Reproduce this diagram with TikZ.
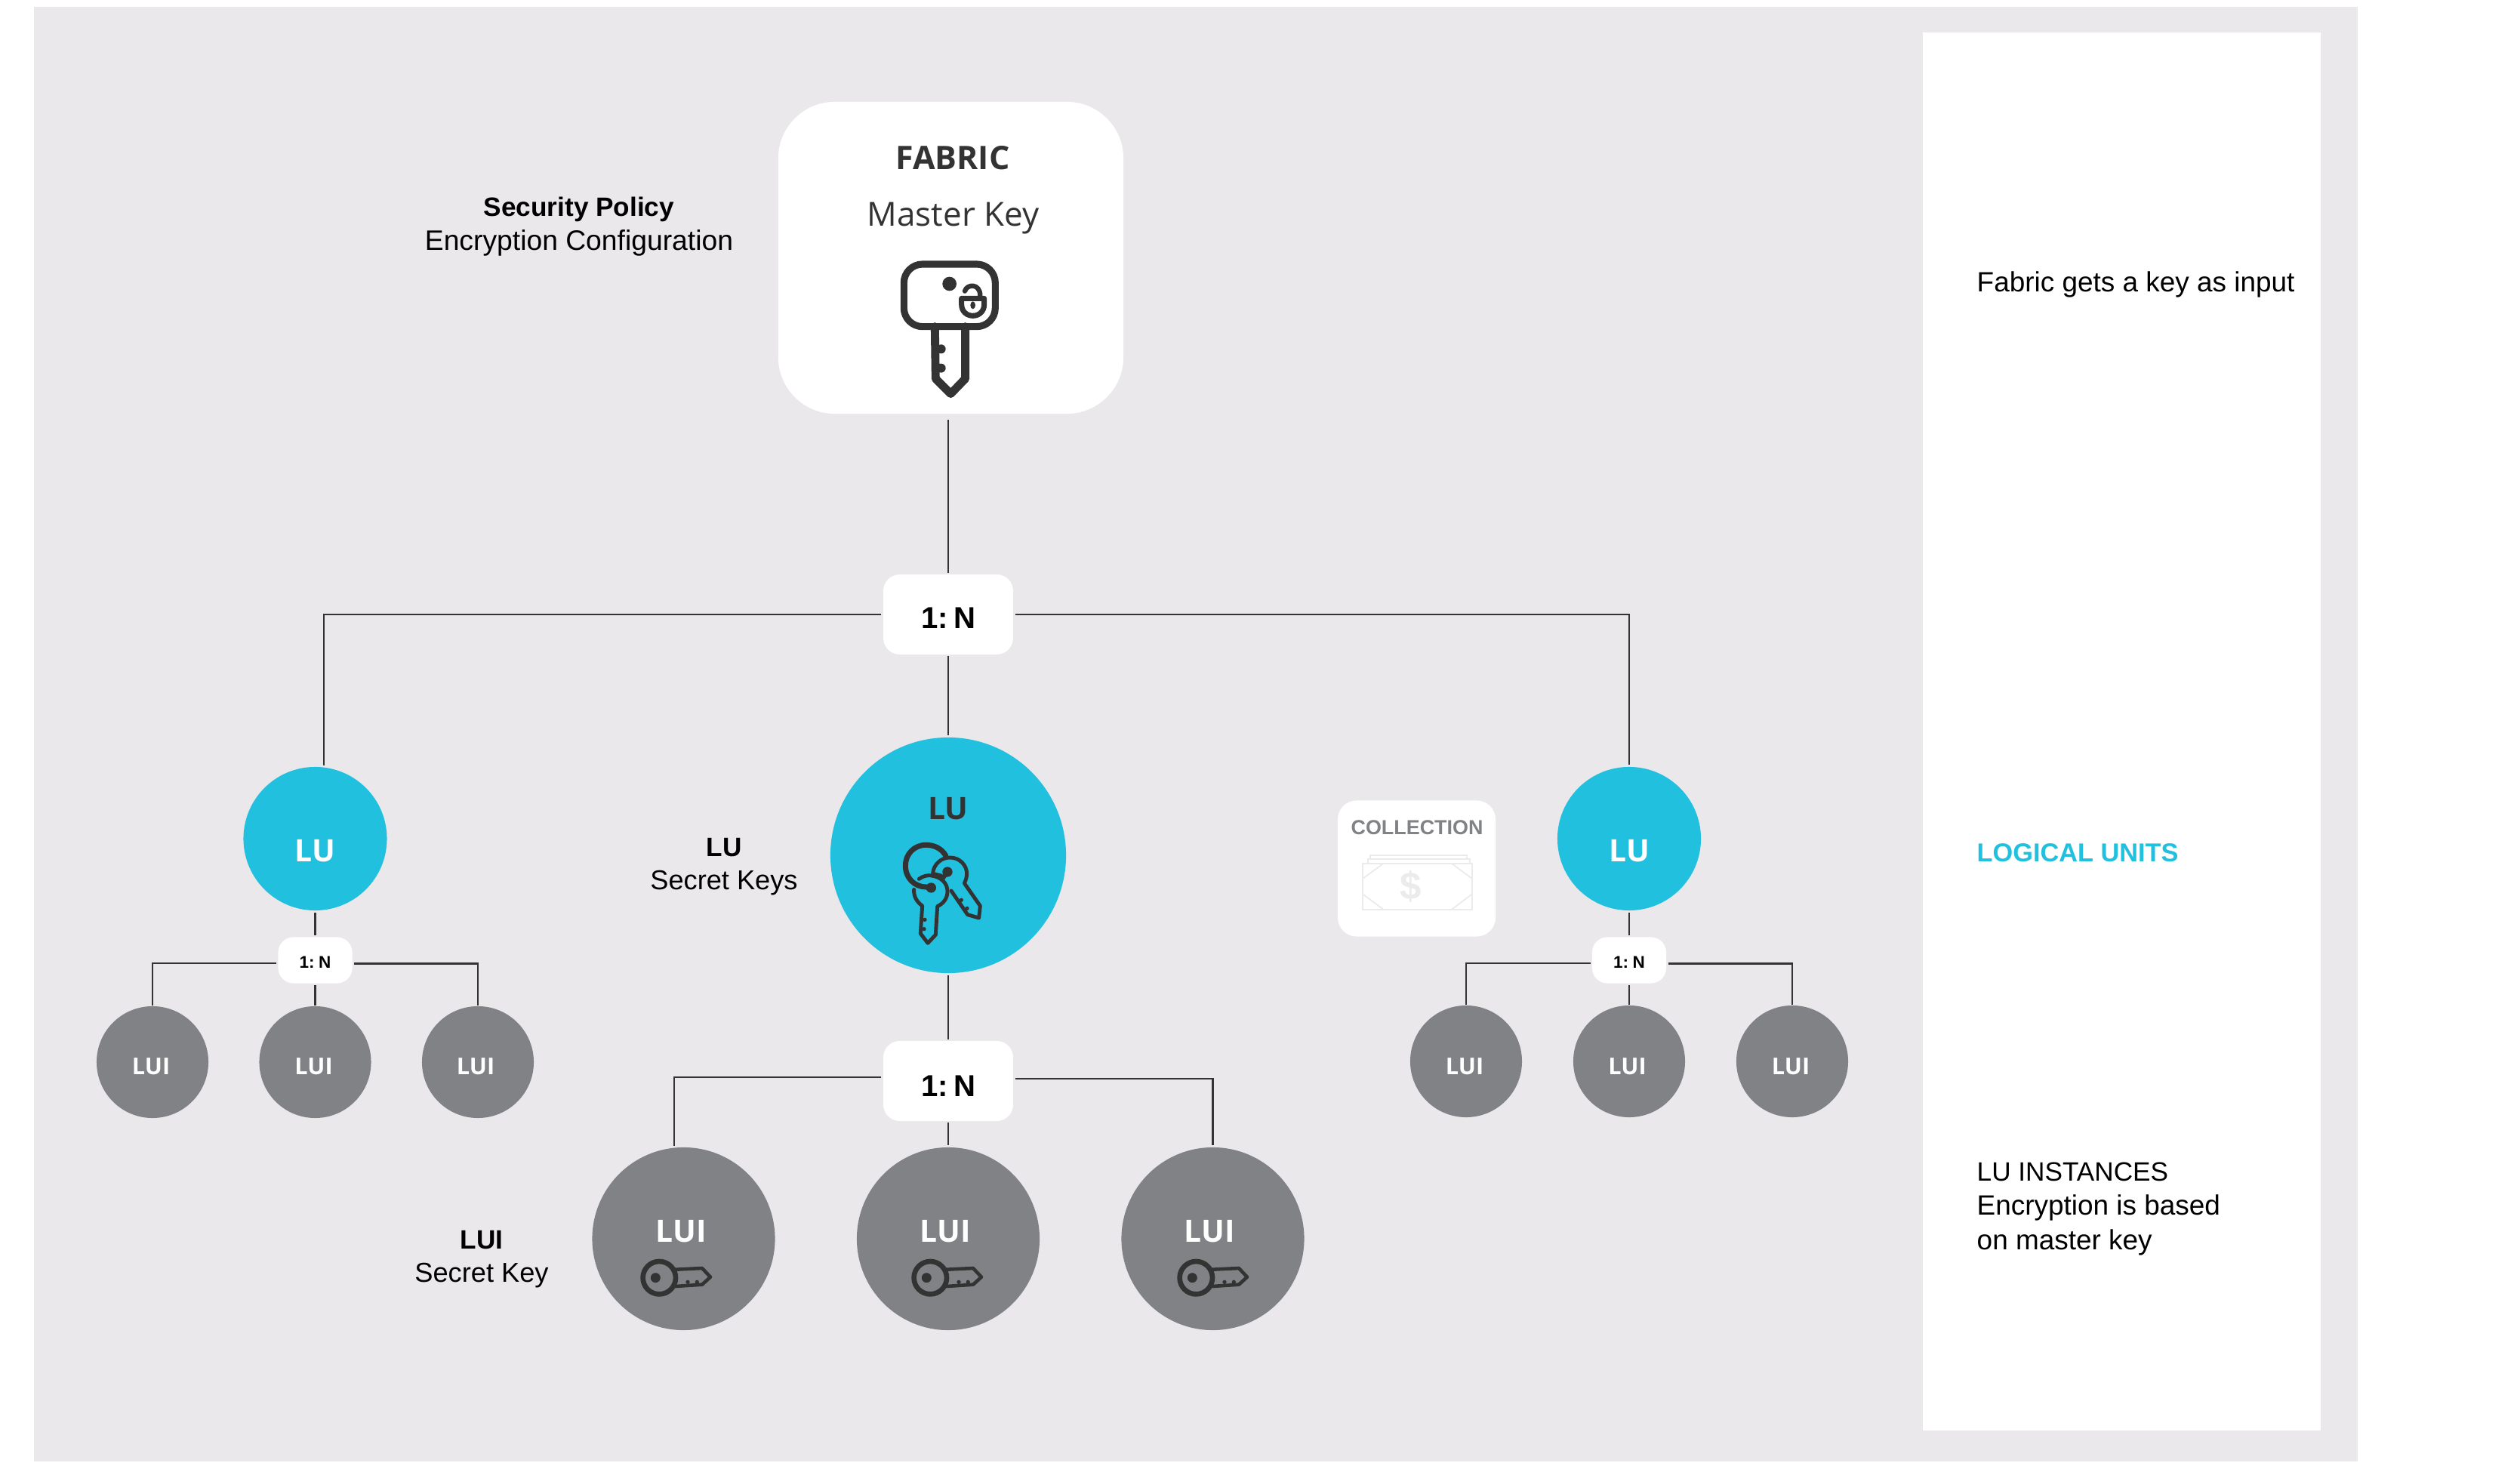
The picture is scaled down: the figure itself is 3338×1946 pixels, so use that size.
\documentclass[tikz,border=0pt]{standalone}
\usepackage{fontspec}
\setmainfont{Liberation Sans}
\newfontfamily\titlefont{Open Sans}
\usetikzlibrary{calc}

\definecolor{canvasgrey}{HTML}{EAE8EB}
\definecolor{lublue}{HTML}{22C0DF}
\definecolor{luigrey}{HTML}{808285}
\definecolor{inkdark}{HTML}{333333}
\definecolor{notegrey}{HTML}{EBEBEC}

\tikzset{
    link/.style={draw=inkdark,line width=0.6pt},
    icon/.style={draw=inkdark,line join=round,line cap=round},
    dot/.style={fill=inkdark},
    whitebox/.style={fill=white,inner sep=0,outer sep=0.7pt},
    ratiobig/.style={whitebox,rounded corners=0.22cm,minimum width=1.72cm,minimum height=1.06cm},
    ratiosmall/.style={whitebox,rounded corners=0.2cm,minimum width=0.98cm,minimum height=0.61cm},
    lubig/.style={circle,fill=lublue,inner sep=0,outer sep=0.7pt,minimum size=3.12cm},
    lusmall/.style={circle,fill=lublue,inner sep=0,outer sep=0.7pt,minimum size=1.9cm},
    luibig/.style={circle,fill=luigrey,inner sep=0,outer sep=0.7pt,minimum size=2.42cm},
    luismall/.style={circle,fill=luigrey,inner sep=0,minimum size=1.48cm},
    tag/.style={inner sep=0,anchor=base},
    body/.style={tag,font=\fontsize{10.5}{12.8}\selectfont},
    head/.style={tag,font=\fontsize{10}{12.8}\selectfont\bfseries},
    bigname/.style={tag,font=\titlefont\fontsize{11.6}{14}\selectfont\bfseries},
    smallname/.style={tag,font=\titlefont\fontsize{8.7}{11}\selectfont\bfseries,text=white},
    ratiobigtext/.style={tag,font=\fontsize{11.4}{14}\selectfont\bfseries},
    ratiosmalltext/.style={tag,font=\fontsize{6.4}{8}\selectfont\bfseries},
    luikey/.pic={
        \draw[icon,line width=1.9pt] (0,0) circle[radius=21.7];
        \draw[icon,line width=1.3pt] (21.7,-11) -- (56.7,-12.7) -- (67.7,-1) -- (56.7,9) -- (21.7,11.3);
        \fill[dot] (-5,0) circle[radius=6.5];
        \fill[dot] (37.7,5.7) circle[radius=2.7];
        \fill[dot] (50,5.7) circle[radius=2.7];
    }
}

\begin{document}
\begin{tikzpicture}[x=0.01cm,y=-0.01cm]
        \useasboundingbox (0,0) rectangle (3338,1946);
        \fill[canvasgrey] (45,9) rectangle (3123,1936);
        \fill[white] (2547,43) rectangle (3074,1895);

        \node[fill=white,inner sep=0,rounded corners=0.75cm,minimum width=4.57cm,minimum height=4.13cm] (fabric) at (1259.5,341.5) {};
        \node[whitebox,rounded corners=0.25cm,minimum width=2.09cm,minimum height=1.8cm,outer sep=0] (collection) at (1876.5,1150.5) {};

        \node[ratiobig] (ratioA) at (1256,814) {};
        \node[ratiobig] (ratioB) at (1256,1432) {};
        \node[ratiosmall] (ratioL) at (417.5,1272) {};
        \node[ratiosmall] (ratioR) at (2158,1272) {};

        \node[lusmall] (luL) at (417.5,1111) {};
        \node[lubig] (luC) at (1256,1133) {};
        \node[lusmall] (luR) at (2158,1111) {};

        \node[luismall] (luiLa) at (202,1407) {};
        \node[luismall] (luiLb) at (417.5,1407) {};
        \node[luismall] (luiLc) at (633,1407) {};
        \node[luismall] (luiRa) at (1942,1406) {};
        \node[luismall] (luiRb) at (2158,1406) {};
        \node[luismall] (luiRc) at (2374,1406) {};
        \node[luibig] (luiA) at (905.5,1641) {};
        \node[luibig] (luiB) at (1256,1641) {};
        \node[luibig] (luiC) at (1606.5,1641) {};

        \draw[link] (ratioA.north) -- ($(ratioA.north |- fabric.south)+(0,7)$);
        \draw[link] (ratioA.west) -| (luL.83.7);
        \draw[link] (ratioA.east) -| (luR.north);
        \draw[link] (ratioA.south) -- (luC.north);
        \draw[link] (luL.south) -- (ratioL.north);
        \draw[link] (luC.south) -- (ratioB.north);
        \draw[link] (luR.south) -- (ratioR.north);

        \draw[link] (ratioL.184.7) -| (luiLa.north);
        \draw[link] (ratioL.south) -- (luiLb.north);
        \draw[link] (ratioL.355.3) -| (luiLc.north);
        \draw[link] (ratioR.184.7) -| (luiRa.north);
        \draw[link] (ratioR.south) -- (luiRb.north);
        \draw[link] (ratioR.355.3) -| (luiRc.north);
        \draw[link] (ratioB.177.4) -| (luiA.96.4);
        \draw[link] (ratioB.south) -- (luiB.north);
        \draw[link] (ratioB.2.6) -| (luiC.north);

        \node[tag,font=\titlefont\fontsize{12.2}{14}\selectfont\bfseries,text=inkdark] (fabricname) at (1262,225) {FABRIC};
        \node[tag,font=\titlefont\fontsize{12.5}{14}\selectfont,text=inkdark] (masterkey) at (1262.5,299.3) {Master Key};

        \node[head] (policyhead) at (767,286.7) {Security Policy};
        \node[body,font=\fontsize{10.6}{12.8}\selectfont] (policybody) at (767,331.7) {Encryption Configuration};
        \node[head] (luhead) at (959,1135) {LU};
        \node[body,font=\fontsize{10.3}{12.8}\selectfont] (lubody) at (959,1179) {Secret Keys};
        \node[head] (luihead) at (638,1654.7) {LUI};
        \node[body,font=\fontsize{10.3}{12.8}\selectfont] (luibody) at (638,1698) {Secret Key};

        \node[ratiobigtext] (ratioAtext) at (1256.5,833) {1:\kern-1.9pt{} N};
        \node[ratiobigtext] (ratioBtext) at (1256.5,1452) {1:\kern-1.9pt{} N};
        \node[ratiosmalltext] (ratioLtext) at (417.5,1282.7) {1:\kern-0.8pt{} N};
        \node[ratiosmalltext] (ratioRtext) at (2158,1282.7) {1:\kern-0.8pt{} N};

        \node[bigname,text=white] (luLtext) at (417.5,1142) {LU};
        \node[bigname,text=inkdark] (luCtext) at (1256,1085) {LU};
        \node[bigname,text=white] (luRtext) at (2158.5,1142) {LU};

        \node[smallname] (luiLatext) at (200,1423) {LUI};
        \node[smallname] (luiLbtext) at (415.5,1423) {LUI};
        \node[smallname] (luiLctext) at (630,1423) {LUI};
        \node[smallname] (luiRatext) at (1940,1423) {LUI};
        \node[smallname] (luiRbtext) at (2155.5,1423) {LUI};
        \node[smallname] (luiRctext) at (2372,1423) {LUI};
        \node[bigname,text=white] (luiAtext) at (902,1645) {LUI};
        \node[bigname,text=white] (luiBtext) at (1252,1645) {LUI};
        \node[bigname,text=white] (luiCtext) at (1602,1645) {LUI};

        \node[tag,font=\fontsize{7.65}{10}\selectfont\bfseries,text=luigrey] (collectiontext) at (1877,1105.7) {COLLECTION};

        \node[body,anchor=base west] (notefabric) at (2618,387) {Fabric gets a key as input};
        \node[head,anchor=base west,font=\fontsize{9.75}{12}\selectfont\bfseries,text=lublue] (notelu) at (2618,1141) {LOGICAL UNITS};
        \node[body,anchor=base west,font=\fontsize{10}{12.8}\selectfont] (noteluiA) at (2618,1564) {LU INSTANCES};
        \node[body,anchor=base west] (noteluiB) at (2618,1609) {Encryption is based};
        \node[body,anchor=base west] (noteluiC) at (2618,1655) {on master key};

        \pic (keyA) at (873.3,1692.7) {luikey};
        \pic (keyB) at (1232.3,1692.7) {luikey};
        \pic (keyC) at (1584.3,1692.7) {luikey};

        \begin{scope}[shift={(1000,120)},scale=1/3]
            \draw[icon,line width=2.6pt,rounded corners=7pt] (592,690) rectangle (955,938);
            \draw[icon,line width=3.1pt] (715,938) -- (718,1145) -- (778,1205) -- (836,1145) -- (836,938);
            \fill[dot] (773,768) circle[radius=28];
            \fill[dot] (740,1027) circle[radius=18];
            \fill[dot] (740,1103) circle[radius=18];
            \draw[icon,line width=2pt] (821,826) -- (911,826) -- (911,850) .. controls (911,878) and (890,895) .. (866,895) .. controls (842,895) and (821,878) .. (821,850) -- cycle;
            \draw[icon,line width=1.8pt] (834,797) .. controls (842,768) and (895,765) .. (895,815);
            \fill[dot] (866,853) ellipse[x radius=10,y radius=15];
        \end{scope}

        \begin{scope}[shift={(1080,960)},scale=1/3]
            \draw[icon,line width=2pt] (518,520) .. controls (500,490) and (470,478) .. (440,478) .. controls (392,478) and (358,515) .. (358,560) .. controls (358,610) and (395,645) .. (440,645) -- (460,648);
            \fill[dot] (460,648) circle[radius=20];
            \draw[icon,line width=1.4pt] (412,613) .. controls (430,600) and (450,597) .. (462,600) .. controls (500,605) and (525,630) .. (525,662) .. controls (525,690) and (510,710) .. (485,722) -- (478,835) -- (447,868) -- (418,830) -- (425,720) .. controls (405,705) and (390,685) .. (392,655);
            \fill[dot] (435,775) circle[radius=8];
            \fill[dot] (432,812) circle[radius=8];
            \draw[icon,line width=1.4pt] (467,590) .. controls (470,555) and (500,528) .. (535,528) .. controls (575,528) and (602,560) .. (602,592) .. controls (602,605) and (598,618) .. (592,630) -- (655,720) -- (650,768) -- (605,755) -- (540,660);
            \draw[icon,line width=1.4pt] (467,592) -- (500,600);
            \draw[icon,line width=1.7pt] (525,585) -- (505,612);
            \fill[dot] (525,585) circle[radius=20];
            \fill[dot] (580,697) circle[radius=8];
            \fill[dot] (603,730) circle[radius=8];
        \end{scope}

        \begin{scope}[shift={(1760,1040)},scale=1/3]
            \draw[notegrey,line width=0.5pt] (135,311) rectangle (570,495);
            \draw[notegrey,line width=0.5pt] (155,311) -- (155,295) -- (560,295) -- (560,311);
            \draw[notegrey,line width=0.5pt] (165,295) -- (165,278) -- (550,278) -- (550,295);
            \draw[notegrey,line width=0.5pt] (218,311) -- (135,372);
            \draw[notegrey,line width=0.5pt] (135,433) -- (218,495);
            \draw[notegrey,line width=0.5pt] (488,311) -- (570,372);
            \draw[notegrey,line width=0.5pt] (570,433) -- (488,495);
            \node[inner sep=0,font=\fontsize{14.5}{16}\selectfont\bfseries,text=notegrey] (dollar) at (325,403) {\$};
        \end{scope}
\end{tikzpicture}
\end{document}
